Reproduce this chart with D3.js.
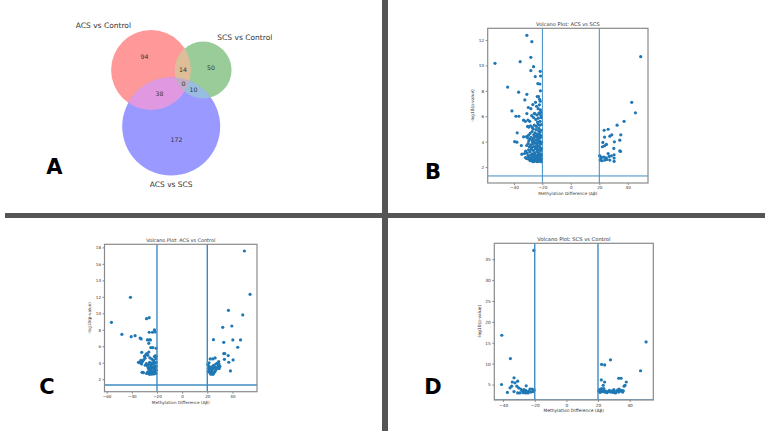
<!DOCTYPE html>
<html>
<head>
<meta charset="utf-8">
<script src="https://cdn.jsdelivr.net/npm/d3@7"></script>
<style>
  body { margin: 0; background: #fff; }
  svg { display: block; }
  text { font-family: "DejaVu Sans", sans-serif; fill: #333; }
</style>
</head>
<body>
<svg id="fig" width="770" height="436"></svg>
<script>
// ---------------------------------------------------------------------------
// data

// venn: region code = membership in [ACS vs Control, SCS vs Control, ACS vs SCS]
const vennSetLabels = ["ACS vs Control", "SCS vs Control", "ACS vs SCS"];
const vennRegionCodes = ["100", "010", "110", "001", "101", "011", "111"];
const vennCounts = [94, 50, 14, 172, 38, 10, 0];
const vennSetColors = ["#ff0000", "#008000", "#0000ff"];

const panelLetters = ["A", "B", "C", "D"];

const pThreshold = -Math.log10(0.05);
const diffThreshold = 20;

// [methylation difference, -log10(p)]
const acsScsPoints = [
  [-30.9,12.37],[-27.4,11.87],[-53.3,10.17],[-35.6,10.3],[-28.1,10.64],[-26.2,9.9],[-28.1,9.6],
  [-21.5,9.54],[-25.0,9.12],[-21.3,9.17],[-23.2,8.57],[-21.8,8.54],[-44.4,8.3],[-36.7,7.9],
  [-21.4,8.0],[-30.9,7.73],[-23.6,7.55],[-22.7,7.55],[-22.0,7.34],[-32.3,7.29],[-21.5,7.18],
  [-26.7,6.92],[-41.4,6.42],[-29.9,6.69],[-28.1,6.6],[-24.1,6.79],[-38.6,6.0],[-36.5,6.0],
  [-30.9,6.21],[-25.7,6.21],[-22.2,6.21],[-33.2,5.69],[-37.7,4.7],[-39.5,4.0],[-37.9,3.96],
  [-33.2,4.38],[-34.4,3.02],[-32.5,3.07],[-31.1,2.68],[-23.0,6.6],[-22.1,6.9],[-24.8,7.1],
  [-21.4,6.5],[-32.0,5.6],[-30.4,5.2],[-34.8,3.7],[-31.9,2.75],[-29.6,2.62],
  [-21.2,6.3],[-22.4,6.25],[-23.8,6.1],[-25.3,6.2],[-27.5,6.05],[-21.0,6.05],
  [-20.8,5.9],[-22.9,5.85],[-24.6,5.75],[-26.2,5.9],[-28.9,5.6],[-21.6,5.6],[-23.4,5.55],[-30.1,5.7],
  [-20.6,5.35],[-21.9,5.3],[-23.1,5.4],[-24.2,5.2],[-25.7,5.3],[-27.0,5.1],[-28.3,5.25],[-22.5,5.05],
  [-26.4,5.0],[-29.5,5.15],
  [-20.9,4.9],[-21.7,4.75],[-22.6,4.85],[-23.5,4.6],[-24.4,4.95],[-25.1,4.7],[-26.0,4.55],[-27.2,4.8],
  [-28.6,4.65],[-29.8,4.5],[-31.2,4.4],[-22.0,4.55],[-24.0,4.5],
  [-20.7,4.45],[-21.4,4.3],[-22.3,4.4],[-23.0,4.2],[-23.8,4.35],[-24.7,4.15],[-25.5,4.4],[-26.3,4.25],
  [-27.1,4.1],[-27.9,4.35],[-28.8,4.2],[-29.6,4.05],[-30.5,4.3],[-21.8,4.05],[-25.9,4.0],[-23.3,4.0],
  [-20.6,3.95],[-21.3,3.8],[-22.1,3.9],[-22.8,3.65],[-23.6,3.85],[-24.3,3.7],[-25.0,3.9],[-25.8,3.6],
  [-26.6,3.8],[-27.4,3.55],[-28.2,3.75],[-29.1,3.6],[-30.0,3.85],[-31.0,3.7],[-21.7,3.55],[-24.0,3.5],
  [-26.9,3.95],
  [-20.5,3.45],[-21.2,3.3],[-21.9,3.4],[-22.6,3.15],[-23.3,3.35],[-24.0,3.2],[-24.8,3.45],[-25.5,3.1],
  [-26.3,3.3],[-27.1,3.05],[-27.8,3.4],[-28.7,3.2],[-29.7,3.35],[-30.6,3.1],[-20.9,3.05],[-23.0,3.0],
  [-25.9,3.0],[-31.8,3.25],
  [-20.6,2.95],[-21.4,2.85],[-22.2,2.95],[-22.9,2.75],[-23.7,2.9],[-24.4,2.8],[-25.2,2.95],[-26.0,2.75],
  [-26.7,2.9],[-27.5,2.8],[-28.3,2.95],[-29.2,2.75],[-30.1,2.9],[-21.8,2.7],[-24.9,2.7],
  [-20.5,2.65],[-21.1,2.5],[-21.9,2.6],[-22.5,2.45],[-23.3,2.6],[-24.0,2.5],[-24.7,2.65],[-25.5,2.45],
  [-26.2,2.6],[-27.0,2.5],[-27.8,2.65],[-28.6,2.5],[-20.8,2.42],[-23.6,2.42],[-26.6,2.42],
  [49.1,10.69],[42.8,7.1],[45.4,6.27],[37.4,5.6],[32.5,5.3],[23.4,4.9],[26.2,4.98],[23.7,4.36],
  [27.4,4.43],[28.8,4.54],[35.1,4.54],[22.5,3.94],[23.7,3.68],[25.0,3.78],[30.6,3.99],[34.4,4.12],
  [22.2,3.6],[30.2,3.47],[34.4,3.28],[34.9,3.23],[26.2,3.07],[28.5,2.89],[20.2,2.9],[21.5,2.78],
  [23.2,2.78],[24.8,2.73],[26.9,2.84],[30.4,2.97],[30.4,2.71],[20.6,2.55],[22.0,2.5],[23.9,2.55],
  [27.4,2.55],[30.4,2.45],[21.0,2.65],[25.4,2.6]
];

const acsControlPoints = [
  [-56.2,8.91],[-47.9,7.45],[-41.1,11.94],[-40.5,7.17],[-37.4,7.29],[-33.4,7.0],[-32.6,6.89],
  [-28.3,9.35],[-26.2,9.47],[-26.2,7.7],[-23.6,7.7],[-22.0,8.0],[-21.5,7.74],[-27.6,6.77],
  [-26.2,6.77],[-25.2,6.77],[-26.5,6.36],[-24.9,5.84],[-23.3,5.84],[-20.7,5.76],[-32.1,5.27],
  [-34.7,4.06],[-32.8,4.3],[-31.8,2.85],[-28.0,5.1],[-26.5,5.3],[-29.9,4.8],
  [-20.6,4.8],[-21.3,4.85],[-22.0,4.75],[-20.9,4.5],[-22.8,4.3],[-24.1,4.45],[-25.6,4.6],[-27.3,4.9],
  [-28.8,5.0],[-29.5,4.55],[-30.6,4.35],[-31.5,4.15],[-33.0,4.05],[-32.2,3.85],[-34.1,4.0],
  [-20.7,4.05],[-21.5,3.95],[-22.4,4.1],[-23.2,3.85],[-24.0,3.95],[-24.9,3.75],[-25.8,4.05],
  [-26.7,3.8],[-27.5,3.6],[-28.4,3.9],[-29.3,3.7],
  [-20.5,3.6],[-21.2,3.45],[-22.0,3.55],[-22.9,3.35],[-23.7,3.5],[-24.5,3.3],[-25.4,3.45],
  [-26.3,3.2],[-27.0,3.4],[-21.7,3.25],
  [-20.6,3.1],[-21.4,2.95],[-22.2,3.05],[-23.0,2.85],[-23.9,3.0],[-24.7,2.8],[-25.5,2.95],
  [-26.4,2.75],[-27.3,2.9],[-28.2,2.7],[-20.9,2.7],[-22.6,2.65],[-24.3,2.62],[-26.0,2.6],
  [-31.6,2.85],[-30.8,2.8],
  [49.5,17.56],[54.0,12.3],[36.8,10.36],[48.2,9.8],[32.3,8.3],[39.5,8.46],[24.9,6.8],[33.1,6.48],
  [40.3,6.77],[46.4,6.77],[44.2,5.88],[33.1,5.11],[33.9,5.11],[36.6,4.87],[33.6,4.42],[40.5,4.34],
  [37.1,4.06],[38.4,3.01],
  [20.4,3.78],[21.2,3.6],[22.0,3.45],[20.8,3.3],[21.6,3.15],[22.5,3.25],[23.3,3.05],[24.1,3.2],
  [20.6,2.95],[21.5,2.85],[22.4,2.95],[23.2,2.75],[24.0,2.9],[24.8,2.7],[25.6,2.85],[22.8,2.62],
  [24.5,2.6],[26.3,3.0],[27.1,3.2],[25.3,3.35],[26.0,3.5],[27.8,3.4],[28.6,3.6],[29.4,3.3],
  [23.6,3.5],[25.0,3.7],[26.8,3.85],[29.1,4.14],[28.0,3.95],[21.4,4.0],[22.3,4.46],[24.4,4.46],
  [26.2,4.59],[29.3,3.85],[30.0,3.55]
];

const scsControlPoints = [
  [-20.6,37.1],[-40.8,16.8],[-35.4,11.2],[-41.0,5.0],[-33.1,6.6],[-34.2,5.6],[-32.5,5.4],[-30.8,5.8],
  [-34.6,4.6],[-35.6,4.2],[-31.3,4.6],[-30.2,4.2],[-28.8,3.9],[-25.4,4.7],[-21.7,3.9],[-37.3,3.1],
  [-33.1,3.3],[-30.8,3.0],[-29.4,3.0],[-27.0,3.3],[-25.8,3.0],[-24.2,3.0],[-22.5,3.2],[-20.6,3.5],
  [-23.8,3.4],[-24.9,3.1],[-26.2,3.3],[-27.4,3.05],[-28.1,3.5],[-25.7,3.6],[-23.0,3.9],[-26.9,3.8],
  [-21.1,3.3],[-20.4,3.7],
  [50.4,15.2],[46.9,8.3],[27.9,10.9],[22.3,9.8],[24.2,9.7],[22.1,6.1],[24.2,5.6],[23.3,4.8],
  [33.1,6.5],[34.6,6.5],[37.9,5.6],[37.1,4.8],[36.5,4.6],[30.0,3.8],
  [20.6,3.4],[21.3,3.1],[21.9,3.6],[22.6,3.3],[23.4,3.5],[24.1,3.2],[24.9,3.4],[25.6,3.05],
  [26.4,3.3],[27.2,3.6],[27.9,3.2],[28.7,3.4],[29.5,3.1],[30.3,3.3],[31.1,3.0],[31.9,3.5],
  [32.6,3.7],[33.4,3.9],[34.2,3.4],[35.0,3.6],[35.6,3.2],[33.0,3.2],[36.0,3.5],[20.9,3.8],
  [22.2,4.0],[23.7,4.0]
];

const acsScsTicksX = [-40, -20, 0, 20, 40];
const acsScsTicksY = [2, 4, 6, 8, 10, 12];
const acsControlTicksX = [-60, -40, -20, 0, 20, 40];
const acsControlTicksY = [2, 4, 6, 8, 10, 12, 14, 16, 18];
const scsControlTicksX = [-40, -20, 0, 20, 40];
const scsControlTicksY = [5, 10, 15, 20, 25, 30, 35];

// ---------------------------------------------------------------------------

const svg = d3.select("#fig");
const ink = "#555";

// panel separators
svg.append("rect").attr("x", 5).attr("y", 213).attr("width", 760).attr("height", 5).attr("fill", ink);
svg.append("rect").attr("x", 382).attr("y", 0).attr("width", 6).attr("height", 431).attr("fill", ink);

//----------------------------------------------------------------------------------
// venn (matplotlib_venn style: area proportional, colours mixed then alpha 0.4)

const setSizes = [0, 1, 2].map(k =>
  d3.sum(vennRegionCodes.map((c, i) => c[k] === "1" ? vennCounts[i] : 0)));
const pairOverlap = (a, b) =>
  d3.sum(vennRegionCodes.map((c, i) => c[a] === "1" && c[b] === "1" ? vennCounts[i] : 0));

const rScale = d3.scaleSqrt().domain([0, d3.max(setSizes)]).range([0, 49]);
const radii = setSizes.map(rScale);
const unitArea = Math.PI * rScale(1) * rScale(1);

function lensArea(d, r1, r2) {
  if (d >= r1 + r2) return 0;
  if (d <= Math.abs(r1 - r2)) return Math.PI * Math.min(r1, r2) ** 2;
  const a1 = Math.acos((d * d + r1 * r1 - r2 * r2) / (2 * d * r1));
  const a2 = Math.acos((d * d + r2 * r2 - r1 * r1) / (2 * d * r2));
  return r1 * r1 * a1 + r2 * r2 * a2 -
    0.5 * Math.sqrt((-d + r1 + r2) * (d + r1 - r2) * (d - r1 + r2) * (d + r1 + r2));
}
function solveDistance(a, b) {
  const target = pairOverlap(a, b) * unitArea;
  let lo = Math.abs(radii[a] - radii[b]), hi = radii[a] + radii[b];
  for (let i = 0; i < 60; i++) {
    const mid = (lo + hi) / 2;
    if (lensArea(mid, radii[a], radii[b]) > target) lo = mid; else hi = mid;
  }
  return (lo + hi) / 2;
}
const dAB = solveDistance(0, 1), dAC = solveDistance(0, 2), dBC = solveDistance(1, 2);
const cosA = (dAB * dAB + dAC * dAC - dBC * dBC) / (2 * dAB * dAC);
const origin = [151, 70];
const centers = [
  origin,
  [origin[0] + dAB, origin[1]],
  [origin[0] + dAC * cosA, origin[1] + dAC * Math.sqrt(1 - cosA * cosA)]
];

const rgbOf = c => { const q = d3.rgb(c); return [q.r / 255, q.g / 255, q.b / 255]; };
function regionColor(code) {
  const on = [0, 1, 2].filter(k => code[k] === "1").map(k => rgbOf(vennSetColors[k]));
  const f = on.length === 1 ? 1 : on.length === 2 ? 0.7 : 0.4;
  const mix = [0, 1, 2].map(j => Math.min(1, f * d3.sum(on, c => c[j])));
  return d3.rgb(...mix.map(v => 255 * (0.6 + 0.4 * v))).formatHex();
}

const venn = svg.append("g");
const defs = svg.append("defs");
centers.forEach((c, k) => {
  defs.append("clipPath").attr("id", "vclip" + k)
    .append("circle").attr("cx", c[0]).attr("cy", c[1]).attr("r", radii[k]);
});
function drawCircle(parent, k, fill) {
  parent.append("circle").attr("cx", centers[k][0]).attr("cy", centers[k][1])
    .attr("r", radii[k]).attr("fill", fill);
}
// single sets, then pairwise, then triple on top
drawCircle(venn, 0, regionColor("100"));
drawCircle(venn, 1, regionColor("010"));
drawCircle(venn, 2, regionColor("001"));
drawCircle(venn.append("g").attr("clip-path", "url(#vclip0)"), 1, regionColor("110"));
drawCircle(venn.append("g").attr("clip-path", "url(#vclip0)"), 2, regionColor("101"));
drawCircle(venn.append("g").attr("clip-path", "url(#vclip1)"), 2, regionColor("011"));
drawCircle(venn.append("g").attr("clip-path", "url(#vclip0)")
  .append("g").attr("clip-path", "url(#vclip1)"), 2, regionColor("111"));

// region label = point inside the region farthest from its edges (grid search)
const distIn = (x, y, k) => Math.hypot(x - centers[k][0], y - centers[k][1]) - radii[k];
vennRegionCodes.forEach((code, i) => {
  let best = null, bestD = -1;
  for (let x = 50; x < 300; x += 0.5) {
    for (let y = 0; y < 200; y += 0.5) {
      let ok = true, dmin = Infinity;
      for (let k = 0; k < 3; k++) {
        const d = distIn(x, y, k);
        if ((d <= 0) !== (code[k] === "1")) { ok = false; break; }
        dmin = Math.min(dmin, Math.abs(d));
      }
      if (ok && dmin > bestD) { bestD = dmin; best = [x, y]; }
    }
  }
  venn.append("text").attr("x", best[0]).attr("y", best[1]).attr("dy", "0.35em")
    .attr("text-anchor", "middle").attr("font-size", 6.2).text(vennCounts[i]);
});

// set labels, positioned like matplotlib_venn
const labelPos = [
  { x: centers[0][0] - radii[0] / 2, y: centers[0][1] - radii[0], anchor: "end", dy: "-0.25em" },
  { x: centers[1][0] + radii[1] / 2, y: centers[1][1] - radii[1], anchor: "start", dy: "-0.25em" },
  { x: centers[2][0], y: centers[2][1] + radii[2] * 1.1, anchor: "middle", dy: "0.85em" }
];
vennSetLabels.forEach((t, k) => {
  venn.append("text").attr("x", labelPos[k].x).attr("y", labelPos[k].y).attr("dy", labelPos[k].dy)
    .attr("text-anchor", labelPos[k].anchor).attr("font-size", 7.5).text(t);
});

//----------------------------------------------------------------------------------
// volcano plots

const minus = d => (d < 0 ? "\u2212" : "") + Math.abs(d);

function volcano(p) {
  const g = svg.append("g");
  const pad = (lo, hi) => { const m = (hi - lo) * 0.05; return [lo - m, hi + m]; };
  const xs = p.points.map(d => d[0]), ys = p.points.map(d => d[1]);
  const yLo = p.withThreshold ? Math.min(d3.min(ys), pThreshold) : d3.min(ys);

  const x = d3.scaleLinear().domain(pad(d3.min(xs), d3.max(xs))).range([p.left, p.right]);
  const y = d3.scaleLinear().domain(pad(yLo, d3.max(ys))).range([p.bottom, p.top]);

  const clipId = "clip-" + p.id;
  defs.append("clipPath").attr("id", clipId).append("rect")
    .attr("x", p.left).attr("y", p.top).attr("width", p.right - p.left).attr("height", p.bottom - p.top);

  const plot = g.append("g").attr("clip-path", `url(#${clipId})`);
  plot.selectAll("circle").data(p.points).join("circle")
    .attr("cx", d => x(d[0])).attr("cy", d => y(d[1])).attr("r", 1.6)
    .attr("fill", "#1f77b4");

  plot.selectAll("line.v").data([-diffThreshold, diffThreshold]).join("line")
    .attr("class", "v")
    .attr("x1", d => x(d)).attr("x2", d => x(d)).attr("y1", p.top).attr("y2", p.bottom)
    .attr("stroke", "#3d8bc4").attr("stroke-width", p.lineW);
  plot.append("line")
    .attr("x1", p.left).attr("x2", p.right).attr("y1", y(pThreshold)).attr("y2", y(pThreshold))
    .attr("stroke", "#3d8bc4").attr("stroke-width", p.lineW);

  g.append("rect").attr("x", p.left).attr("y", p.top)
    .attr("width", p.right - p.left).attr("height", p.bottom - p.top)
    .attr("fill", "none").attr("stroke", "#8a8a8a").attr("stroke-width", 1.2);

  const xAxis = g.append("g").attr("transform", `translate(0,${p.bottom})`)
    .call(d3.axisBottom(x).tickValues(p.ticksX).tickFormat(minus).tickSize(2).tickPadding(1.5));
  const yAxis = g.append("g").attr("transform", `translate(${p.left},0)`)
    .call(d3.axisLeft(y).tickValues(p.ticksY).tickFormat(minus).tickSize(2).tickPadding(1.5));
  [xAxis, yAxis].forEach(a => {
    a.select(".domain").remove();
    a.selectAll("line").attr("stroke", "#8a8a8a");
    a.selectAll("text").attr("font-size", p.tickFont).attr("font-family", "DejaVu Sans").attr("fill", "#444");
  });

  g.append("text").attr("x", (p.left + p.right) / 2).attr("y", p.top - 2.6)
    .attr("text-anchor", "middle").attr("font-size", p.titleFont).text(p.title);
  g.append("text").attr("x", (p.left + p.right) / 2).attr("y", p.bottom + 12)
    .attr("text-anchor", "middle").attr("font-size", p.labelFont).text("Methylation Difference (\u0394\u03b2)");
  g.append("text").attr("transform", `translate(${p.left - 13.5},${(p.top + p.bottom) / 2}) rotate(-90)`)
    .attr("text-anchor", "middle").attr("font-size", p.labelFont).text("-log10(p-value)");
}

volcano({ id: "b", points: acsScsPoints, title: "Volcano Plot: ACS vs SCS",
  left: 487.7, right: 648, top: 28.3, bottom: 183, ticksX: acsScsTicksX, ticksY: acsScsTicksY,
  withThreshold: true, lineW: 1, tickFont: 4.2, labelFont: 4.3, titleFont: 5.1 });
volcano({ id: "c", points: acsControlPoints, title: "Volcano Plot: ACS vs Control",
  left: 104.5, right: 257, top: 244.3, bottom: 391.7, ticksX: acsControlTicksX, ticksY: acsControlTicksY,
  withThreshold: true, lineW: 1.4, tickFont: 4.1, labelFont: 4.2, titleFont: 4.9 });
volcano({ id: "d", points: scsControlPoints, title: "Volcano Plot: SCS vs Control",
  left: 494.3, right: 653.3, top: 243.3, bottom: 400, ticksX: scsControlTicksX, ticksY: scsControlTicksY,
  withThreshold: false, lineW: 1.4, tickFont: 4.3, labelFont: 4.4, titleFont: 5.2 });

// panel letters
const letterPos = [[54.5, 174], [433, 179], [47, 394], [433, 394]];
svg.selectAll("text.letter").data(panelLetters).join("text")
  .attr("class", "letter")
  .attr("x", (d, i) => letterPos[i][0]).attr("y", (d, i) => letterPos[i][1])
  .attr("text-anchor", "middle")
  .attr("font-family", "Liberation Sans, Arial, sans-serif").attr("font-weight", "bold")
  .attr("font-size", 21).style("fill", "#000").text(d => d);
</script>
</body>
</html>
